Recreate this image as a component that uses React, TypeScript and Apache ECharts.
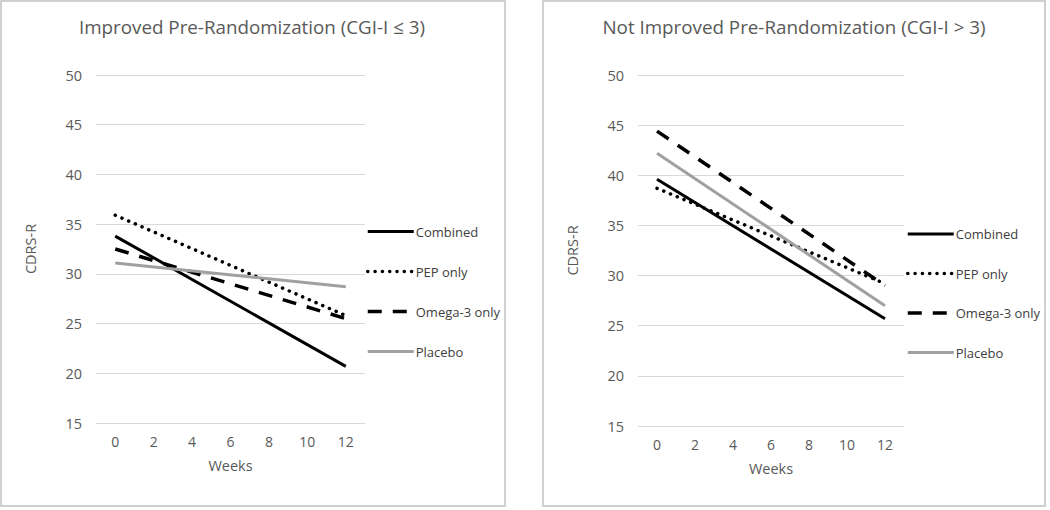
import React, { useEffect, useRef } from "react";
import * as echarts from "echarts";

const weeks = ["0", "2", "4", "6", "8", "10", "12"];
const seriesNames = ["Combined", "PEP only", "Omega-3 only", "Placebo"];

// Improved Pre-Randomization (values read at week 0 and week 12)
const combinedImproved = [33.8, null, null, null, null, null, 20.7];
const pepImproved = [35.9, null, null, null, null, null, 25.8];
const omegaImproved = [32.5, null, null, null, null, null, 25.5];
const placeboImproved = [31.1, null, null, null, null, null, 28.7];

// Not Improved Pre-Randomization
const combinedNot = [39.6, null, null, null, null, null, 25.7];
const pepNot = [38.7, null, null, null, null, null, 29.2];
const omegaNot = [44.4, null, null, null, null, null, 29.0];
const placeboNot = [42.2, null, null, null, null, null, 27.0];

const titles = [
  "Improved Pre-Randomization (CGI-I \u2264 3)",
  "Not Improved Pre-Randomization (CGI-I > 3)",
];

const FONT = "'Open Sans', sans-serif";
const TXT = "#595959";

const styles: any[] = [
  { color: "#000000", width: 3, type: "solid", cap: "butt" },
  { color: "#000000", width: 3.5, type: [0.1, 7.2], cap: "round" },
  { color: "#000000", width: 3.5, type: [14, 11], cap: "butt" },
  { color: "#a0a0a0", width: 3, type: "solid", cap: "butt" },
];

export default function App() {
  const ref = useRef<HTMLDivElement>(null);
  useEffect(() => {
    if (!ref.current) return;
    const chart = echarts.init(ref.current, undefined, { renderer: "svg" });
    const grids = [
      { left: 96, top: 75, width: 269, height: 348 },
      { left: 638, top: 75, width: 266, height: 351 },
    ];
    const panelData = [
      [combinedImproved, pepImproved, omegaImproved, placeboImproved],
      [combinedNot, pepNot, omegaNot, placeboNot],
    ];
    const series: any[] = [];
    panelData.forEach((arr, gi) => {
      arr.forEach((d, si) => {
        series.push({
          name: seriesNames[si],
          type: "line",
          xAxisIndex: gi,
          yAxisIndex: gi,
          data: d,
          connectNulls: true,
          symbol: "none",
          showSymbol: false,
          lineStyle: styles[si],
          itemStyle: { color: styles[si].color },
          z: 2 + si,
        });
      });
    });
    const option: any = {
      animation: false,
      textStyle: { fontFamily: FONT },
      title: titles.map((t, i) => ({
        text: t,
        left: i === 0 ? 247 : 789,
        textAlign: "center",
        top: 12,
        textStyle: { fontFamily: FONT, fontSize: 18.8, fontWeight: "normal", color: TXT },
      })),
      grid: grids,
      xAxis: grids.map((_, i) => ({
        type: "category",
        gridIndex: i,
        data: weeks,
        boundaryGap: true,
        axisLine: { show: false },
        axisTick: { show: false },
        axisLabel: { color: TXT, fontSize: 14, fontFamily: FONT, margin: 11 },
        name: "Weeks",
        nameLocation: "middle",
        nameGap: 35,
        nameTextStyle: { color: TXT, fontSize: 14.5, fontFamily: FONT },
      })),
      yAxis: grids.map((_, i) => ({
        type: "value",
        gridIndex: i,
        min: 15,
        max: 50,
        interval: 5,
        axisLine: { show: false },
        axisTick: { show: false },
        splitLine: { lineStyle: { color: "#d9d9d9", width: 1 } },
        axisLabel: { color: TXT, fontSize: 14.5, fontFamily: FONT, margin: 14 },
        name: "CDRS-R",
        nameLocation: "middle",
        nameGap: 58,
        nameTextStyle: { color: TXT, fontSize: 14.5, fontFamily: FONT },
      })),
      legend: [
        { left: 361, top: 220, itemGap: 27 },
        { left: 901, top: 222.5, itemGap: 26.5 },
      ].map((p) => ({
        ...p,
        orient: "vertical",
        data: seriesNames,
        itemWidth: 46,
        itemHeight: 14,
        selectedMode: false,
        itemStyle: { opacity: 0 },
        lineStyle: { width: "inherit" },
        textStyle: { color: "#404040", fontSize: 13, fontFamily: FONT, padding: [0, 0, 0, -3] },
      })),
      graphic: [
        {
          type: "rect",
          shape: { x: 1, y: 1, width: 504, height: 505 },
          style: { fill: "none", stroke: "#d0d0d0", lineWidth: 2 },
          silent: true,
        },
        {
          type: "rect",
          shape: { x: 543, y: 1, width: 502, height: 505 },
          style: { fill: "none", stroke: "#d0d0d0", lineWidth: 2 },
          silent: true,
        },
      ],
      series,
    };
    chart.setOption(option);
    return () => chart.dispose();
  }, []);
  return (
    <div
      ref={ref}
      style={{ position: "absolute", left: 0, top: 0, width: 1050, height: 510, background: "#fff" }}
    />
  );
}
